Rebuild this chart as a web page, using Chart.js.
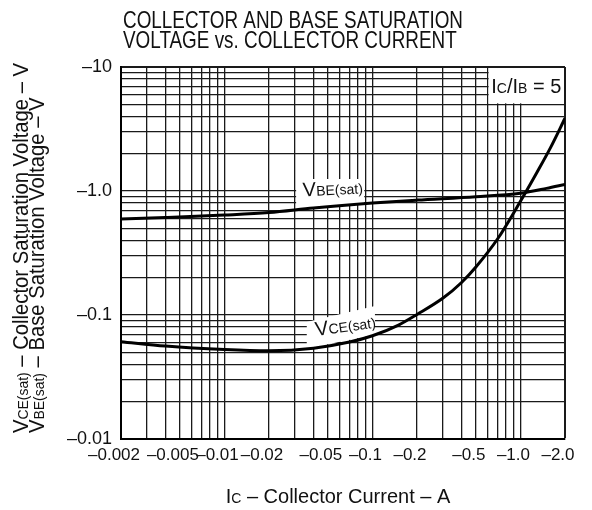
<!DOCTYPE html>
<html>
<head>
<meta charset="utf-8">
<script src="https://cdn.jsdelivr.net/npm/chart.js@4.4.1/dist/chart.umd.min.js"></script>
<style>
html,body{margin:0;padding:0;background:#fff;}
#wrap{width:592px;height:510px;}
</style>
</head>
<body>
<div id="wrap"><canvas id="c" width="592" height="510" style="width:592px;height:510px"></canvas></div>
<script>
// ---------------- data ----------------
const titleLines = ['COLLECTOR AND BASE SATURATION', 'VOLTAGE vs. COLLECTOR CURRENT'];

// V_BE(sat) curve (collector current A, volts; plotted as magnitudes)
const vbeCurrent = [0.002, 0.004, 0.01, 0.02, 0.04, 0.1, 0.2, 0.5, 1.0, 1.5, 2.0];
const vbeSat     = [0.595, 0.612, 0.64, 0.67, 0.73, 0.80, 0.845, 0.90, 0.96, 1.05, 1.13];

// V_CE(sat) curve
const vceCurrent = [0.002, 0.004, 0.01, 0.02, 0.04, 0.07, 0.1, 0.15, 0.2, 0.3, 0.4, 0.5, 0.7, 1.0, 1.3, 1.6, 2.0];
const vceSat     = [0.061, 0.0562, 0.0527, 0.0515, 0.054, 0.0605, 0.068, 0.083, 0.101, 0.137, 0.183, 0.244, 0.41, 0.826, 1.43, 2.25, 3.86];

// tick labels
const xTickValues = [0.002, 0.005, 0.01, 0.02, 0.05, 0.1, 0.2, 0.5, 1.0, 2.0];
const xTickLabels = ['\u20130.002', '\u20130.005', '\u20130.01', '\u20130.02', '\u20130.05', '\u20130.1', '\u20130.2', '\u20130.5', '\u20131.0', '\u20132.0'];
const yTickValues = [0.01, 0.1, 1, 10];
const yTickLabels = ['\u20130.01', '\u20130.1', '\u20131.0', '\u201310'];

const xMin = 0.002, xMax = 2.0, yMin = 0.01, yMax = 10;

// ---------------- styling / annotation config ----------------
const FONT = "'Liberation Sans', Arial, Helvetica, sans-serif";

// annotation anchors in data units
const ratioBox = { xFrom: 0.6, yFrom: 5 };
const vbeLabel = { x: 0.034, y: 0.903, angle: -3, parts: [['V', 20], ['BE(sat)', 14]] };
const vceLabel = { x: 0.0416, y: 0.0678, angle: -8, parts: [['V', 20], ['CE(sat)', 14]] };
const labelMasks = [
  [[0.0305, 1.25], [0.088, 1.25], [0.088, 0.79], [0.0305, 0.70]],
  [[0.036, 0.088], [0.104, 0.118], [0.104, 0.0694], [0.036, 0.0536]]
];
const titleLayout = { left: 123, width: 340 };
const yTitleLayout = { bottom: 433, length: 370, line1X: 28, line2X: 44 };

function gridValues(min, max) {
  const vals = [];
  for (let e = -3; e <= 1; e++) {
    for (let m = 1; m <= 9; m++) {
      const v = +(m * Math.pow(10, e)).toPrecision(6);
      if (v >= min * 0.999 && v <= max * 1.001) vals.push(v);
    }
  }
  return vals;
}
function labelFor(values, labels, v) {
  const i = values.findIndex(t => Math.abs(t - v) / t < 1e-6);
  return i >= 0 ? labels[i] : '';
}
function richWidth(ctx, parts) {
  let total = 0;
  parts.forEach(([t, s]) => { ctx.font = s + 'px ' + FONT; total += ctx.measureText(t).width; });
  return total;
}
function drawRich(ctx, parts, x, y, angleDeg, align, sx) {
  ctx.save();
  ctx.translate(x, y);
  ctx.rotate(angleDeg * Math.PI / 180);
  if (sx) ctx.scale(sx, 1);
  const total = richWidth(ctx, parts);
  let cx = align === 'center' ? -total / 2 : 0;
  ctx.textBaseline = 'alphabetic';
  ctx.textAlign = 'left';
  parts.forEach(([t, s]) => {
    ctx.font = s + 'px ' + FONT;
    ctx.fillText(t, cx, 0);
    cx += ctx.measureText(t).width;
  });
  ctx.restore();
}

// condense the Chart.js title horizontally (the reference uses a condensed face)
const titleCondense = {
  id: 'titleCondense',
  beforeDraw(chart) {
    const tb = chart.titleBlock;
    if (!tb || tb._condensed) return;
    const orig = tb.draw;
    tb.draw = function (area) {
      const ctx = this.ctx;
      const f = this.options.font;
      ctx.save();
      ctx.font = `${f.weight || 'normal'} ${f.size}px ${f.family}`;
      const w = ctx.measureText(titleLines[0]).width;
      ctx.restore();
      const sx = titleLayout.width / w;
      ctx.save();
      ctx.translate(titleLayout.left, 0);
      ctx.scale(sx, 1);
      ctx.translate(-this.left, 0);
      orig.call(this, area);
      ctx.restore();
    };
    tb._condensed = true;
  }
};

const annotPlugin = {
  id: 'annot',
  beforeDatasetsDraw(chart) {
    const { ctx, chartArea, scales: { x, y } } = chart;
    ctx.save();
    ctx.fillStyle = '#fff';
    const bx0 = x.getPixelForValue(ratioBox.xFrom) + 1;
    const by1 = y.getPixelForValue(ratioBox.yFrom) - 1;
    ctx.fillRect(bx0, chartArea.top + 1, chartArea.right - 1 - bx0, by1 - chartArea.top - 1);
    labelMasks.forEach(poly => {
      ctx.beginPath();
      poly.forEach(([vx, vy], i) => {
        const px = x.getPixelForValue(vx), py = y.getPixelForValue(vy);
        if (i) ctx.lineTo(px, py); else ctx.moveTo(px, py);
      });
      ctx.closePath();
      ctx.fill();
    });
    ctx.restore();
  },
  afterDatasetsDraw(chart) {
    const { ctx, chartArea, scales: { x, y } } = chart;
    ctx.save();
    ctx.fillStyle = '#111';
    const bx0 = x.getPixelForValue(ratioBox.xFrom);
    const by1 = y.getPixelForValue(ratioBox.yFrom);
    drawRich(ctx, [['I', 20], ['C', 14], ['/I', 20], ['B', 14], [' = 5', 20]],
      (bx0 + chartArea.right) / 2, (chartArea.top + by1) / 2 + 7, 0, 'center');
    [vbeLabel, vceLabel].forEach(l => {
      drawRich(ctx, l.parts, x.getPixelForValue(l.x), y.getPixelForValue(l.y), l.angle, 'left');
    });
    ctx.restore();
  },
  afterDraw(chart) {
    const { ctx, chartArea } = chart;
    ctx.save();
    ctx.fillStyle = '#111';
    const yLine1 = [['V', 22.5], ['CE(sat)', 15.5], [' \u2013 Collector Saturation Voltage \u2013 V', 22.5]];
    const yLine2 = [['V', 22.5], ['BE(sat)', 15.5], [' \u2013 Base Saturation Voltage \u2013 V', 22.5]];
    const ysx = yTitleLayout.length / richWidth(ctx, yLine1);
    drawRich(ctx, yLine1, yTitleLayout.line1X, yTitleLayout.bottom, -90, 'left', ysx);
    drawRich(ctx, yLine2, yTitleLayout.line2X, yTitleLayout.bottom, -90, 'left', ysx);
    drawRich(ctx, [['I', 20], ['C', 14], [' \u2013 Collector Current \u2013 A', 20]],
      (chartArea.left + chartArea.right) / 2 - 5, 503, 0, 'center');
    ctx.restore();
  }
};

const xGrid = gridValues(xMin, xMax);
const yGrid = gridValues(yMin, yMax);

new Chart(document.getElementById('c'), {
  type: 'line',
  data: {
    datasets: [
      {
        label: 'VBE(sat)',
        data: vbeCurrent.map((c, i) => ({ x: c, y: vbeSat[i] })),
        borderColor: '#000', borderWidth: 3, pointRadius: 0,
        cubicInterpolationMode: 'monotone', fill: false
      },
      {
        label: 'VCE(sat)',
        data: vceCurrent.map((c, i) => ({ x: c, y: vceSat[i] })),
        borderColor: '#000', borderWidth: 3, pointRadius: 0,
        cubicInterpolationMode: 'monotone', fill: false
      }
    ]
  },
  options: {
    responsive: false,
    animation: false,
    devicePixelRatio: 1,
    layout: { padding: { left: 0, right: 27, top: 0, bottom: 0 } },
    plugins: {
      legend: { display: false },
      tooltip: { enabled: false },
      title: {
        display: true,
        text: titleLines,
        align: 'start',
        color: '#111',
        font: { family: FONT, size: 24.5, weight: 'normal', lineHeight: 0.837 },
        padding: { top: 10.5, bottom: 15.5 }
      }
    },
    scales: {
      x: {
        type: 'logarithmic', min: xMin, max: xMax,
        afterBuildTicks: s => { s.ticks = xGrid.map(v => ({ value: v })); },
        afterFit: s => { s.height = 71; },
        grid: {
          color: '#1a1a1a', drawTicks: false,
          lineWidth: c => (c.tick && Math.abs(c.tick.value - xMax) < 1e-9) ? 2 : 1.3
        },
        border: { display: true, color: '#000', width: 2 },
        ticks: {
          autoSkip: false, maxRotation: 0, minRotation: 0, padding: 6, labelOffset: -7,
          color: '#111', font: { family: FONT, size: 17 },
          callback: v => labelFor(xTickValues, xTickLabels, v)
        }
      },
      y: {
        type: 'logarithmic', min: yMin, max: yMax,
        afterBuildTicks: s => { s.ticks = yGrid.map(v => ({ value: v })); },
        afterFit: s => { s.width = 121; },
        grid: {
          color: '#1a1a1a', drawTicks: false,
          lineWidth: c => (c.tick && Math.abs(c.tick.value - yMax) < 1e-9) ? 2 : 1.3
        },
        border: { display: true, color: '#000', width: 2 },
        ticks: {
          autoSkip: false, padding: 9,
          color: '#111', font: { family: FONT, size: 18 },
          callback: v => labelFor(yTickValues, yTickLabels, v)
        }
      }
    }
  },
  plugins: [titleCondense, annotPlugin]
});
</script>
</body>
</html>
